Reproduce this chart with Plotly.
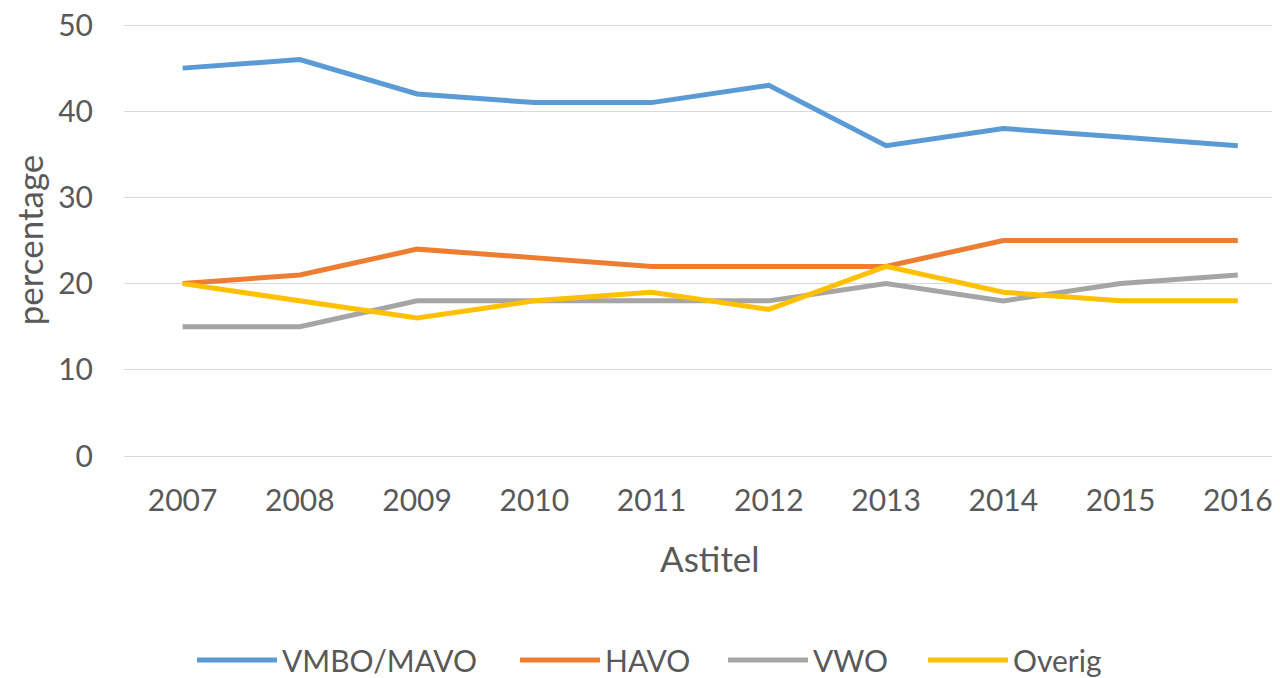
import plotly.graph_objects as go

years = [2007, 2008, 2009, 2010, 2011, 2012, 2013, 2014, 2015, 2016]
vmbo_mavo = [45, 46, 42, 41, 41, 43, 36, 38, 37, 36]
havo = [20, 21, 24, 23, 22, 22, 22, 25, 25, 25]
vwo = [15, 15, 18, 18, 18, 18, 20, 18, 20, 21]
overig = [20, 18, 16, 18, 19, 17, 22, 19, 18, 18]

series = [
    ("VMBO/MAVO", vmbo_mavo, "#5B9BD5"),
    ("HAVO", havo, "#ED7D31"),
    ("VWO", vwo, "#A5A5A5"),
    ("Overig", overig, "#FFC000"),
]

FONT = "Lato"
TXT = "#595959"

# page has an 8px body margin; figure sized to fill the window
OFF = 8
W, H = 1280 - OFF, 678 - OFF
L, R, T = 124 - OFF, 0, 24 - OFF
B = H - (456 - OFF)
PW = W - L - R
PH = H - T - B

legend_px = [197, 520, 728, 928]
legend_names = ["legend", "legend2", "legend3", "legend4"]

fig = go.Figure()
for (name, vals, col), lg in zip(series, legend_names):
    fig.add_trace(go.Scatter(
        x=years, y=vals, name=name, mode="lines",
        line=dict(color=col, width=5),
        cliponaxis=False, legend=lg,
    ))

legend_y = (456 - 660) / PH
layout_legends = {}
for lg, px in zip(legend_names, legend_px):
    layout_legends[lg] = dict(
        orientation="h", x=(px - 124 - 5) / PW, xanchor="left",
        y=legend_y, yanchor="middle",
        font=dict(size=30, color=TXT, family=FONT), itemwidth=80,
        bgcolor="rgba(0,0,0,0)",
    )

fig.update_layout(
    width=W, height=H,
    margin=dict(l=L, r=R, t=T, b=B, autoexpand=False),
    paper_bgcolor="white", plot_bgcolor="white",
    font=dict(family=FONT, color=TXT, size=30),
    showlegend=True,
    xaxis=dict(
        range=[2006.5, 2016.36], tickmode="array", tickvals=years,
        ticktext=[str(y) for y in years],
        showgrid=False, zeroline=False, showline=False,
        ticks="", ticklabelstandoff=24, ticklabeloverflow="allow",
        tickfont=dict(size=30, color=TXT, family=FONT),
    ),
    yaxis=dict(
        range=[0, 50.12], tickvals=[0, 10, 20, 30, 40, 50],
        showgrid=True, gridcolor="#D9D9D9", gridwidth=1,
        zeroline=True, zerolinecolor="#D9D9D9", zerolinewidth=1,
        showline=False, ticks="", ticklabelstandoff=30, ticklabeloverflow="allow",
        tickfont=dict(size=30, color=TXT, family=FONT),
        title=dict(text="percentage", font=dict(size=35, color=TXT, family=FONT), standoff=8),
    ),
    annotations=[dict(
        text="Astitel", x=2011.5, xref="x", y=(456 - 558) / PH, yref="paper",
        showarrow=False, font=dict(size=35, color=TXT, family=FONT),
        xanchor="center", yanchor="middle",
    )],
    **layout_legends,
)

fig.write_html("out.html")
